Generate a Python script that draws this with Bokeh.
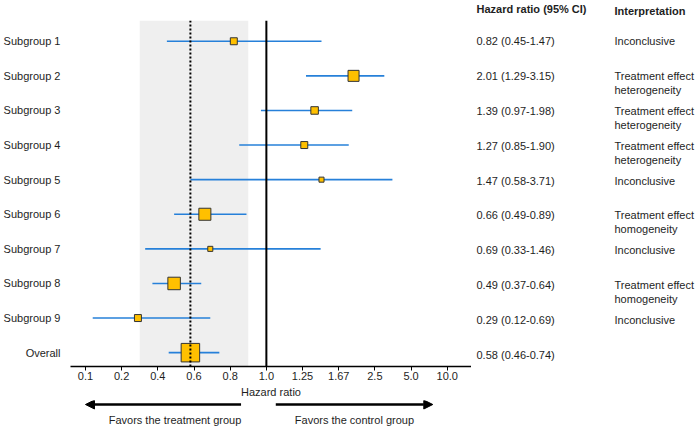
import numpy as np
from bokeh.plotting import figure
from bokeh.layouts import row, column
from bokeh.core.properties import value
from bokeh.models import (ColumnDataSource, FixedTicker, BoxAnnotation, Span,
                          Label, Arrow, NormalHead, Range1d)
from bokeh.embed import file_html
from bokeh.resources import INLINE

# ---------------- data ----------------
subgroups = ["Subgroup 1", "Subgroup 2", "Subgroup 3", "Subgroup 4", "Subgroup 5",
             "Subgroup 6", "Subgroup 7", "Subgroup 8", "Subgroup 9", "Overall"]
hr = [0.82, 2.01, 1.39, 1.27, 1.47, 0.66, 0.69, 0.49, 0.29, 0.58]
ci_lo = [0.45, 1.29, 0.97, 0.85, 0.58, 0.49, 0.33, 0.37, 0.12, 0.46]
ci_hi = [1.47, 3.15, 1.98, 1.90, 3.71, 0.89, 1.46, 0.64, 0.69, 0.74]
weights = [4.2, 10.5, 4.9, 4.2, 2.2, 12.5, 2.2, 13.5, 4.2, 29.6]
interpretation = ["Inconclusive",
                  "Treatment effect\nheterogeneity",
                  "Treatment effect\nheterogeneity",
                  "Treatment effect\nheterogeneity",
                  "Inconclusive",
                  "Treatment effect\nhomogeneity",
                  "Inconclusive",
                  "Treatment effect\nhomogeneity",
                  "Inconclusive",
                  ""]
tick_values = [0.1, 0.2, 0.4, 0.6, 0.8, 1.0, 1.25, 1.67, 2.5, 5.0, 10.0]
tick_labels = ["0.1", "0.2", "0.4", "0.6", "0.8", "1.0", "1.25", "1.67", "2.5", "5.0", "10.0"]
shade_range = (0.3, 0.9)
header_hr = "Hazard ratio (95% CI)"
header_int = "Interpretation"
favors_left = "Favors the treatment group"
favors_right = "Favors the control group"

# ---------------- scale helpers ----------------
tick_idx = np.arange(len(tick_values))


def to_x(v):
    return float(np.interp(v, tick_values, tick_idx))


n = len(subgroups)
rows = [n - 1 - i for i in range(n)]

FONT = "Liberation Sans"
TXT = "#1e1e1e"
FS = "11px"

# layout geometry (pixels)
W_MAIN, H_MAIN = 471, 400
B_LEFT, B_TOP, B_BOT = 68, 20, 32
W_RIGHT = 696 - W_MAIN
H_BOTTOM = 426 - H_MAIN

X0, X1 = -0.414, 10.67
Y0, Y1 = -0.4, n - 0.4
px_y = (H_MAIN - B_TOP - B_BOT) / (Y1 - Y0)


def clean(f):
    f.outline_line_color = None
    f.xgrid.visible = False
    f.ygrid.visible = False
    f.background_fill_color = "white"
    f.border_fill_color = "white"


src = ColumnDataSource(dict(
    y=rows,
    x=[to_x(v) for v in hr],
    x0=[to_x(v) for v in ci_lo],
    x1=[to_x(v) for v in ci_hi],
    size=[3.4 * np.sqrt(w) for w in weights],
))

# ---------------- main forest panel ----------------
p = figure(width=W_MAIN, height=H_MAIN, output_backend="svg", toolbar_location=None,
           x_range=Range1d(X0, X1), y_range=Range1d(Y0, Y1),
           min_border_left=B_LEFT, min_border_right=0, min_border_top=B_TOP,
           min_border_bottom=B_BOT)
clean(p)

p.add_layout(BoxAnnotation(left=to_x(shade_range[0]), right=to_x(shade_range[1]),
                           fill_color="#efefef", fill_alpha=1.0, line_color=None,
                           level="underlay"))
p.add_layout(Span(location=to_x(1.0), dimension="height", line_color="black",
                  line_width=2))
p.add_layout(Span(location=to_x(hr[-1]), dimension="height", line_color="black",
                  line_width=2, line_dash="2 2"))

p.segment(x0="x0", y0="y", x1="x1", y1="y", source=src, line_color="#2680d9",
          line_width=1.6)
p.scatter(x="x", y="y", size="size", marker="square", source=src,
          fill_color="#ffc000", line_color="#333333", line_width=1)

xa = p.xaxis[0]
xa.ticker = FixedTicker(ticks=[int(i) for i in tick_idx])
xa.major_label_overrides = {int(i): lbl for i, lbl in zip(tick_idx, tick_labels)}
xa.axis_line_width = 1.5
xa.axis_line_color = "black"
xa.major_tick_line_color = "black"
xa.major_tick_out = 4
xa.major_tick_in = 0
xa.minor_tick_line_color = None
xa.major_label_text_font = FONT
xa.major_label_text_font_size = FS
xa.major_label_text_color = TXT
xa.major_label_standoff = 1
xa.axis_label = "Hazard ratio"
xa.axis_label_text_font = FONT
xa.axis_label_text_font_size = FS
xa.axis_label_text_font_style = "normal"
xa.axis_label_text_color = TXT
xa.axis_label_standoff = 3

ya = p.yaxis[0]
ya.ticker = FixedTicker(ticks=rows)
ya.major_label_overrides = {r: s for r, s in zip(rows, subgroups)}
ya.axis_line_color = None
ya.major_tick_line_color = None
ya.minor_tick_line_color = None
ya.major_tick_out = 0
ya.major_tick_in = 0
ya.major_label_standoff = 10
ya.major_label_text_font = FONT
ya.major_label_text_font_size = FS
ya.major_label_text_color = TXT

# ---------------- right text panel ----------------
r_y0 = Y0 - B_BOT / px_y - H_BOTTOM / px_y
r_y1 = Y1 + B_TOP / px_y
tp = figure(width=W_RIGHT, height=H_MAIN + H_BOTTOM, output_backend="svg",
            toolbar_location=None, x_range=Range1d(0, W_RIGHT),
            y_range=Range1d(r_y0, r_y1), min_border=0,
            x_axis_location=None, y_axis_location=None)
clean(tp)

hr_text = [f"{h:.2f} ({l:.2f}-{u:.2f})" for h, l, u in zip(hr, ci_lo, ci_hi)]
line1 = [s.split("\n")[0] for s in interpretation]
line2 = [s.split("\n")[1] if "\n" in s else "" for s in interpretation]
col_hr, col_int = 5, 143
tsrc = ColumnDataSource(dict(y=rows, xh=[col_hr] * n, xi=[col_int] * n,
                             hr_text=hr_text, l1=line1, l2=line2))
gcommon = dict(text_font=value(FONT), text_font_size=value(FS), text_color=TXT,
               text_align="left", text_baseline="middle")
tp.text(x="xh", y="y", text="hr_text", source=tsrc, **gcommon)
tp.text(x="xi", y="y", text="l1", source=tsrc, **gcommon)
tp.text(x="xi", y="y", text="l2", source=tsrc, y_offset=14, **gcommon)
lcommon = dict(text_font=FONT, text_font_size=FS, text_color=TXT,
               text_align="left", text_baseline="middle")
tp.add_layout(Label(x=col_hr, y=Y1 + 12 / px_y, text=header_hr,
                    text_font_style="bold", **lcommon))
tp.add_layout(Label(x=col_int, y=Y1 + 10 / px_y, text=header_int,
                    text_font_style="bold", **lcommon))

# ---------------- bottom arrows panel (frame aligned with main panel) ----------------
bp = figure(width=W_MAIN, height=H_BOTTOM, output_backend="svg", toolbar_location=None,
            x_range=Range1d(X0, X1), y_range=Range1d(0, H_BOTTOM),
            min_border_left=B_LEFT, min_border_right=0, min_border_top=0,
            min_border_bottom=0, x_axis_location=None, y_axis_location=None)
clean(bp)
y_arrow = H_BOTTOM - 4
y_dir = H_BOTTOM - 19
for start, end in ((0.86, 0.1), (1.065, 8.0)):
    bp.add_layout(Arrow(end=NormalHead(size=9, fill_color="black", line_color="black"),
                        x_start=to_x(start), y_start=y_arrow,
                        x_end=to_x(end), y_end=y_arrow,
                        line_width=2.5, line_color="black"))
dcommon = dict(text_font=FONT, text_font_size=FS, text_color=TXT,
               text_align="center", text_baseline="middle")
bp.add_layout(Label(x=to_x(0.495), y=y_dir, text=favors_left, **dcommon))
bp.add_layout(Label(x=to_x(2.03), y=y_dir, text=favors_right, **dcommon))

layout = row(column(p, bp, spacing=0), tp, spacing=0)
open("out.html", "w").write(file_html(layout, INLINE))
